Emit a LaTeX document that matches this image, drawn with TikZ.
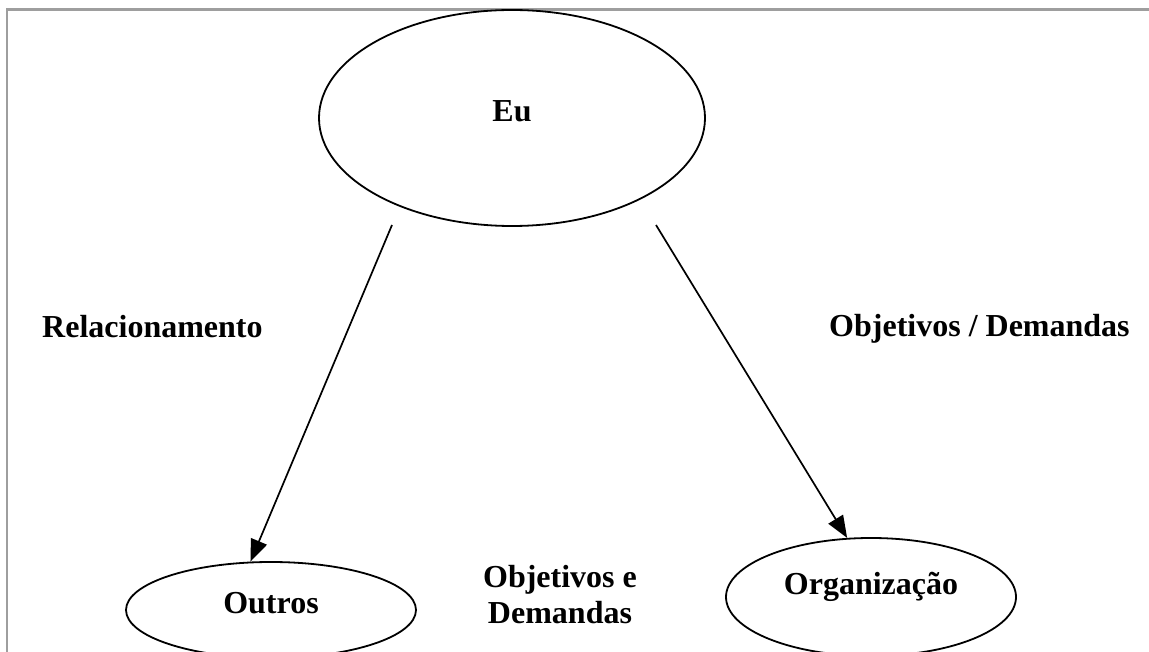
\documentclass[tikz,border=0pt]{standalone}
\usepackage{fontspec}
\setmainfont{Liberation Serif}
\usetikzlibrary{arrows.meta,shapes.geometric}
\begin{document}
\begin{tikzpicture}[x=1pt,y=-1pt,
  every node/.style={font=\fontsize{32}{36}\selectfont\bfseries, inner sep=0pt},
  oval/.style={draw, ellipse, line width=1.8pt},
  conn/.style={line width=1.7pt, -{Triangle[length=22pt,width=17pt]}},
  lbl/.style={text=black}
]
\useasboundingbox (0,0) rectangle (1149,652);
\fill[white] (0,0) rectangle (1149,652);
\draw[line width=2.2pt, color=black!38] (7,652) -- (7,9.5) -- (1149,9.5);

\node[oval, minimum width=386pt, minimum height=216pt, text height=10pt, text depth=2pt] (eu) at (512,118) {Eu};
\node[oval, minimum width=290pt, minimum height=96pt, text height=8pt, text depth=2pt] (outros) at (271,610) {Outros};
\node[oval, minimum width=290pt, minimum height=118pt, text height=2pt, text depth=8pt] (org) at (871,597) {Organização};

\coordinate (s1) at (392,225);
\coordinate (s2) at (656,225);
\draw[conn] (s1) -- (outros.113);
\draw[conn] (s2) -- (org.112);

\node[lbl, anchor=base west] (rel) at (42,338) {Relacionamento};
\node[lbl, anchor=base west] (objdem) at (829,337) {Objetivos / Demandas};
\node[lbl, anchor=base, align=center] (obje) at (560,623) {Objetivos e\\Demandas};
\end{tikzpicture}
\end{document}
